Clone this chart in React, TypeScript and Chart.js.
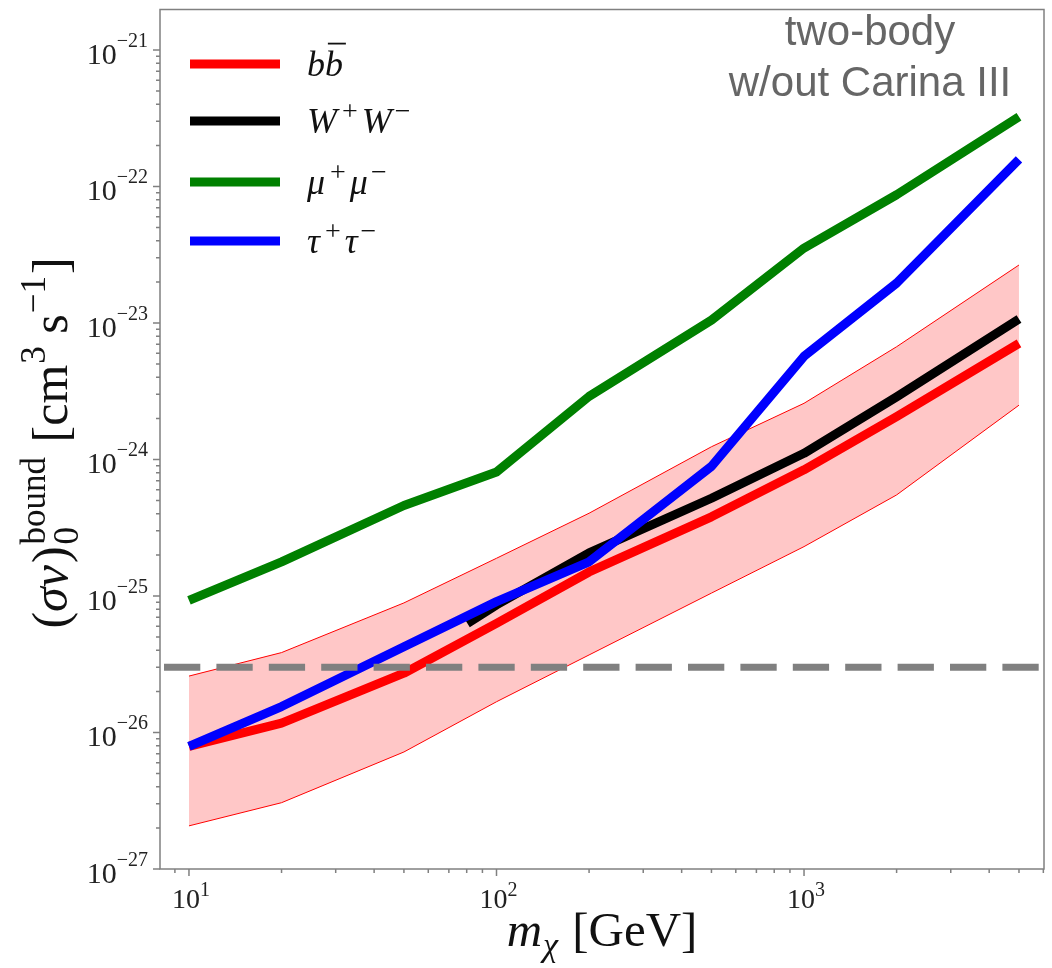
import React, { useEffect, useRef } from "react";
import { Chart, registerables } from "chart.js";

Chart.register(...registerables);

// ---------------- data ----------------
const MASSES = [10, 20, 50, 100, 200, 500, 1000, 2000, 5000];
const BB_CENTRAL = [7.9e-27, 1.17e-26, 2.72e-26, 6.3e-26, 1.5e-25, 3.8e-25, 8.4e-25, 2.06e-24, 7.1e-24];
const BB_UPPER = [2.59e-26, 3.85e-26, 8.9e-26, 1.89e-25, 4.04e-25, 1.24e-24, 2.58e-24, 6.7e-24, 2.66e-23];
const BB_LOWER = [2.07e-27, 3.06e-27, 7.2e-27, 1.68e-26, 3.7e-26, 1.05e-25, 2.3e-25, 5.5e-25, 2.5e-24];
const WW_MASSES = [80.4, 100, 200, 500, 1000, 2000, 5000];
const WW_VALUES = [6.3e-26, 8.6e-26, 2.07e-25, 5.2e-25, 1.11e-24, 2.88e-24, 1.07e-23];
const MUMU = [9.3e-26, 1.78e-25, 4.6e-25, 8.1e-25, 2.9e-24, 1.05e-23, 3.54e-23, 8.7e-23, 3.24e-22];
const TAUTAU = [7.9e-27, 1.55e-26, 4.25e-26, 9.1e-26, 1.78e-25, 8.9e-25, 5.7e-24, 1.96e-23, 1.58e-22];
const RELIC = 3e-26;

const X_MIN = 8.05;
const X_MAX = 6030;
const Y_MIN = 1e-27;
const Y_MAX = 1.98e-21;
const X_DECADES = [1, 2, 3];
const Y_DECADES = [-27, -26, -25, -24, -23, -22, -21];

const ANNOTATION = ["two-body", "w/out Carina III"];

const SERIF = '"Liberation Serif", "Times New Roman", serif';
const SANS = '"Liberation Sans", Arial, sans-serif';

type Seg = {
  t?: string;
  font: string;
  dy?: number;
  gap?: number;
  overline?: boolean;
  stackSup?: string;
  stackSub?: string;
  supDy?: number;
  subDy?: number;
};

function segWidth(ctx: CanvasRenderingContext2D, s: Seg) {
  ctx.font = s.font;
  const g = s.gap || 0;
  if (s.t !== undefined) return ctx.measureText(s.t).width + g;
  return Math.max(ctx.measureText(s.stackSup || "").width, ctx.measureText(s.stackSub || "").width) + g;
}

function drawSegs(
  ctx: CanvasRenderingContext2D,
  segs: Seg[],
  x: number,
  y: number,
  align: "left" | "center" | "right"
) {
  const widths = segs.map((s) => segWidth(ctx, s));
  const total = widths.reduce((a, b) => a + b, 0);
  let cx = align === "left" ? x : align === "center" ? x - total / 2 : x - total;
  ctx.textAlign = "left";
  ctx.textBaseline = "alphabetic";
  segs.forEach((s, i) => {
    ctx.font = s.font;
    const sx = cx + (s.gap || 0);
    const w = widths[i] - (s.gap || 0);
    if (s.t !== undefined) {
      ctx.fillText(s.t, sx, y + (s.dy || 0));
      if (s.overline) {
        const size = parseFloat(s.font.replace(/^[a-z ]*/, ""));
        ctx.save();
        ctx.strokeStyle = ctx.fillStyle as string;
        ctx.lineWidth = Math.max(1.5, size * 0.05);
        ctx.beginPath();
        ctx.moveTo(sx + size * 0.08, y - size * 0.9);
        ctx.lineTo(sx + w + size * 0.08, y - size * 0.9);
        ctx.stroke();
        ctx.restore();
      }
    } else {
      ctx.fillText(s.stackSup || "", sx, y + (s.supDy || 0));
      ctx.fillText(s.stackSub || "", sx, y + (s.subDy || 0));
    }
    cx += widths[i];
  });
}

function toPts(xs: number[], ys: number[]) {
  return xs.map((x, i) => ({ x, y: ys[i] }));
}

function pairLabel(base: string): Seg[] {
  return [
    { t: base, font: `italic 36px ${SERIF}` },
    { t: "+", font: `28px ${SERIF}`, dy: -13, gap: 5 },
    { t: base, font: `italic 36px ${SERIF}`, gap: 4 },
    { t: "\u2212", font: `28px ${SERIF}`, dy: -13, gap: 3 },
  ];
}

const decorPlugin = {
  id: "decor",
  afterDraw(chart: any) {
    const ctx: CanvasRenderingContext2D = chart.ctx;
    const { left, right, top, bottom } = chart.chartArea;
    const xs = chart.scales.x;
    const ys = chart.scales.y;
    ctx.save();

    // frame
    ctx.strokeStyle = "#808080";
    ctx.lineWidth = 1.5;
    ctx.strokeRect(left, top, right - left, bottom - top);

    // ticks
    ctx.beginPath();
    for (let d = -28; d <= -20; d++) {
      for (let k = 1; k <= 9; k++) {
        const v = k * Math.pow(10, d);
        if (v < Y_MIN * 0.999 || v > Y_MAX) continue;
        const py = ys.getPixelForValue(v);
        const len = k === 1 ? 7 : 4;
        ctx.moveTo(left, py);
        ctx.lineTo(left - len, py);
      }
    }
    for (let d = 0; d <= 4; d++) {
      for (let k = 1; k <= 9; k++) {
        const v = k * Math.pow(10, d);
        if (v < X_MIN || v > X_MAX) continue;
        const px = xs.getPixelForValue(v);
        const len = k === 1 ? 7 : 4;
        ctx.moveTo(px, bottom);
        ctx.lineTo(px, bottom + len);
      }
    }
    ctx.stroke();

    // tick labels
    ctx.fillStyle = "#222";
    Y_DECADES.forEach((d) => {
      const py = ys.getPixelForValue(Math.pow(10, d));
      drawSegs(
        ctx,
        [
          { t: "10", font: `30px ${SERIF}` },
          { t: "\u2212" + String(-d), font: `20px ${SERIF}`, dy: -17 },
        ],
        148,
        py + 14,
        "right"
      );
    });
    X_DECADES.forEach((d) => {
      const px = xs.getPixelForValue(Math.pow(10, d));
      drawSegs(
        ctx,
        [
          { t: "10", font: `28px ${SERIF}` },
          { t: String(d), font: `20px ${SERIF}`, dy: -12 },
        ],
        px + 2,
        908,
        "center"
      );
    });

    // axis titles
    ctx.fillStyle = "#111";
    drawSegs(
      ctx,
      [
        { t: "m", font: `italic 49px ${SERIF}` },
        { t: "\u03c7", font: `italic 34px ${SERIF}`, dy: 10, gap: 1 },
        { t: " [GeV]", font: `49px ${SERIF}`, gap: 2 },
      ],
      602,
      946,
      "center"
    );
    ctx.save();
    ctx.translate(67, 443);
    ctx.rotate(-Math.PI / 2);
    drawSegs(
      ctx,
      [
        { t: "(", font: `50px ${SERIF}` },
        { t: "\u03c3v", font: `italic 50px ${SERIF}` },
        { t: ")", font: `50px ${SERIF}`, gap: 2 },
        { stackSup: "bound", stackSub: "0", font: `35px ${SERIF}`, supDy: -22, subDy: 11, gap: 2 },
        { t: " [cm", font: `50px ${SERIF}`, gap: 2 },
        { t: "3", font: `35px ${SERIF}`, dy: -22, gap: 1 },
        { t: " s", font: `50px ${SERIF}` },
        { t: "\u22121", font: `35px ${SERIF}`, dy: -22, gap: 1 },
        { t: "]", font: `50px ${SERIF}`, gap: 2 },
      ],
      0,
      0,
      "center"
    );
    ctx.restore();

    // legend
    const legendItems: { color: string; segs: Seg[]; y: number }[] = [
      {
        color: "#ff0000",
        y: 64,
        segs: [
          { t: "b", font: `italic 36px ${SERIF}` },
          { t: "b", font: `italic 36px ${SERIF}`, overline: true },
        ],
      },
      { color: "#000000", y: 121, segs: pairLabel("W") },
      { color: "#008000", y: 182, segs: pairLabel("\u03bc") },
      { color: "#0000ff", y: 241, segs: pairLabel("\u03c4") },
    ];
    legendItems.forEach((it) => {
      ctx.strokeStyle = it.color;
      ctx.lineWidth = 9;
      ctx.lineCap = "butt";
      ctx.beginPath();
      ctx.moveTo(190, it.y);
      ctx.lineTo(280, it.y);
      ctx.stroke();
      ctx.fillStyle = "#111";
      drawSegs(ctx, it.segs, 307, it.y + 12, "left");
    });

    // annotation
    ctx.fillStyle = "#666666";
    ctx.font = `42px ${SANS}`;
    ctx.textAlign = "center";
    ctx.textBaseline = "alphabetic";
    ctx.fillText(ANNOTATION[0], 870, 45);
    ctx.fillText(ANNOTATION[1], 870, 96);

    ctx.restore();
  },
};

export default function App() {
  const ref = useRef<HTMLCanvasElement | null>(null);
  useEffect(() => {
    if (!ref.current) return;
    const thick = { borderWidth: 9, pointRadius: 0, tension: 0, borderCapStyle: "butt", borderJoinStyle: "round", fill: false };
    const chart = new Chart(ref.current, {
      type: "line",
      data: {
        datasets: [
          {
            label: "bb upper",
            data: toPts(MASSES, BB_UPPER),
            borderColor: "#ff0000",
            borderWidth: 1,
            pointRadius: 0,
            backgroundColor: "rgba(255,0,0,0.22)",
            fill: "+1",
            order: 6,
          },
          {
            label: "bb lower",
            data: toPts(MASSES, BB_LOWER),
            borderColor: "#ff0000",
            borderWidth: 1,
            pointRadius: 0,
            fill: false,
            order: 7,
          },
          { label: "bb", data: toPts(MASSES, BB_CENTRAL), borderColor: "#ff0000", ...thick, order: 5 },
          { label: "WW", data: toPts(WW_MASSES, WW_VALUES), borderColor: "#000000", ...thick, order: 4 },
          { label: "mumu", data: toPts(MASSES, MUMU), borderColor: "#008000", ...thick, order: 3 },
          { label: "tautau", data: toPts(MASSES, TAUTAU), borderColor: "#0000ff", ...thick, order: 2 },
          {
            label: "relic",
            data: toPts([X_MIN, X_MAX], [RELIC, RELIC]),
            borderColor: "#808080",
            borderWidth: 7,
            borderDash: [36.3, 16.1],
            borderDashOffset: 48.4,
            pointRadius: 0,
            fill: false,
            order: 1,
          },
        ] as any,
      },
      options: {
        animation: false,
        responsive: false,
        maintainAspectRatio: false,
        layout: { padding: { left: 160, top: 9.5, right: 8, bottom: 99 } },
        scales: {
          x: { type: "logarithmic", min: X_MIN, max: X_MAX, display: false },
          y: { type: "logarithmic", min: Y_MIN, max: Y_MAX, display: false },
        },
        plugins: { legend: { display: false }, tooltip: { enabled: false } },
        events: [],
      } as any,
      plugins: [decorPlugin],
    });
    return () => chart.destroy();
  }, []);
  return (
    <div style={{ position: "absolute", left: 0, top: 0, width: 1052, height: 968, background: "#fff" }}>
      <canvas ref={ref} width={1052} height={968} style={{ width: 1052, height: 968, display: "block" }} />
    </div>
  );
}
